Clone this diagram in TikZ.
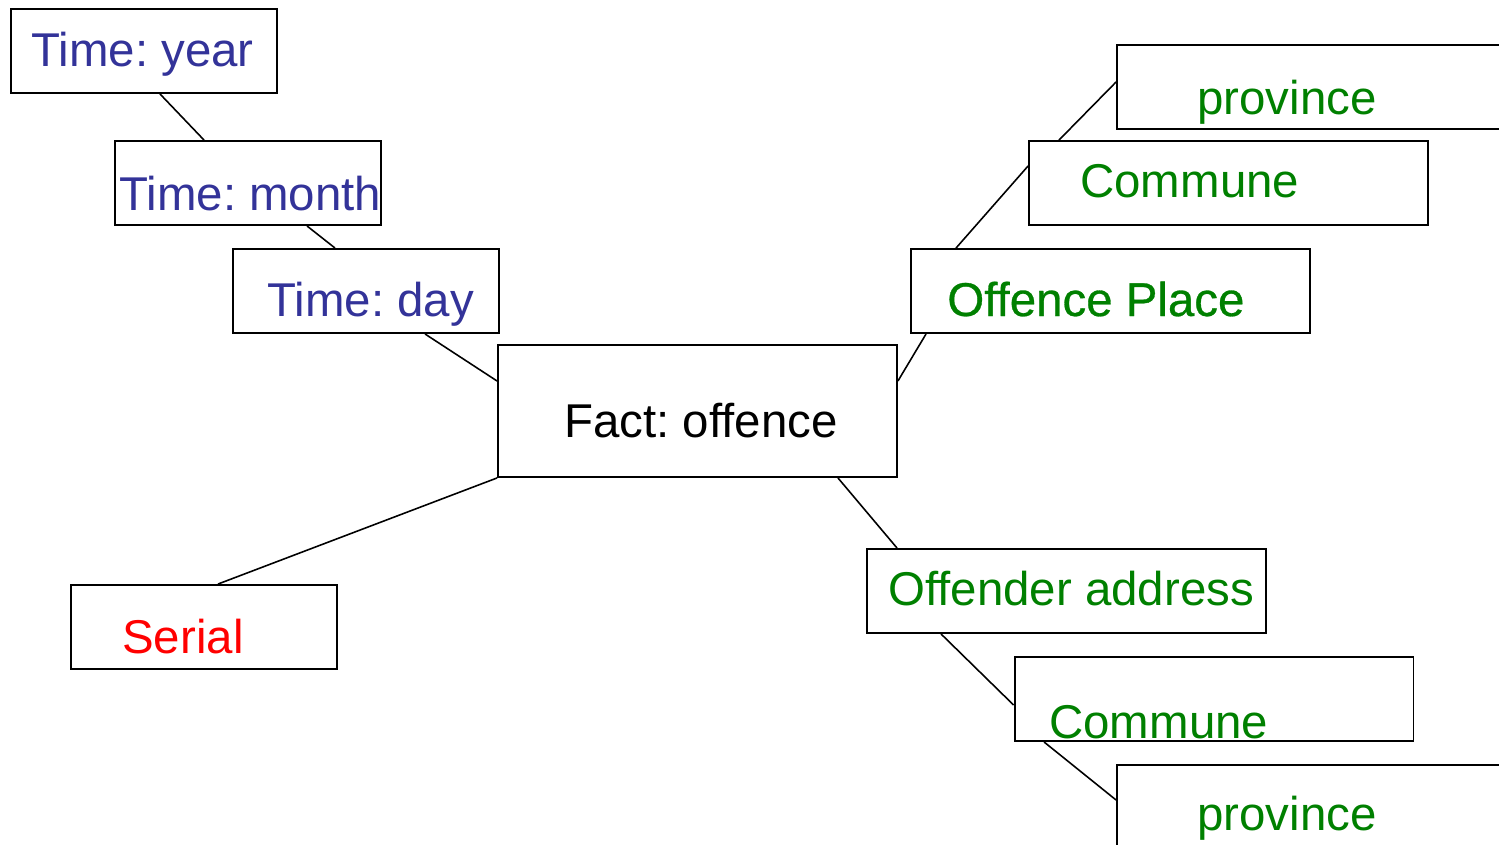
\documentclass[tikz,border=0pt]{standalone}
\usepackage{fontspec}
\setmainfont{Liberation Sans}
\usepackage{xcolor}
\definecolor{dmblue}{HTML}{333399}
\definecolor{dmgreen}{HTML}{008000}
\definecolor{dmred}{HTML}{FF0000}
\usepackage{tikz}
\usetikzlibrary{positioning}
\frenchspacing

\begin{document}
\begin{tikzpicture}[
  x=0.02cm, y=-0.02cm,
  box/.style={rectangle, draw=black, fill=white, line width=1.1pt,
              minimum width=7.98cm, minimum height=1.68cm, inner sep=0pt},
  shortbox/.style={box, minimum width=5.32cm},
  txt/.style={anchor=base west, inner sep=0pt, font=\fontsize{27}{32}\selectfont},
  conn/.style={draw=black, line width=0.9pt}
]
  \clip (0,0) rectangle (1499,845);

  \node[shortbox] (year) at (144,51) {};
  \node[shortbox] (month) at (248,183) {};
  \node[shortbox] (day) at (366,291) {};
  \node[box, minimum height=2.64cm] (fact) at (697.5,411) {};
  \node[shortbox] (serial) at (204,627) {};
  \node[box] (province1) at (1316.5,87) {};
  \node[box] (commune1) at (1228.5,183) {};
  \node[box] (place) at (1110.5,291) {};
  \node[box] (offender) at (1066.5,591) {};
  \node[box] (commune2) at (1214,699) {};
  \node[box] (province2) at (1316.5,807) {};

  \node[txt, dmblue] (yeartxt) at (31,66) {Time: year};
  \node[txt, dmblue] (monthtxt) at (119,210) {Time: month};
  \node[txt, dmblue] (daytxt) at (267,316) {Time: day};
  \node[txt] (facttxt) at (564,437) {Fact: offence};
  \node[txt, dmred] (serialtxt) at (122,653) {Serial};
  \node[txt, dmgreen] (province1txt) at (1197,114) {province};
  \node[txt, dmgreen] (commune1txt) at (1080,197) {Commune};
  \node[txt, dmgreen, font=\fontsize{27}{32}\selectfont\addfontfeatures{FakeBold=0.6}]
    (placetxt) at (947,316) {Offence Place};
  \node[txt, dmgreen] (offendertxt) at (888,605) {Offender address};
  \node[txt, dmgreen] (commune2txt) at (1049,738) {Commune};
  \node[txt, dmgreen] (province2txt) at (1197,830) {province};

  \draw[conn] ([xshift=0.32cm]year.south) -- ([xshift=-0.88cm]month.north);
  \draw[conn] ([xshift=1.18cm]month.south) -- ([xshift=-0.62cm]day.north);
  \draw[conn] ([xshift=1.18cm]day.south) -- ([yshift=0.6cm]fact.west);
  \draw[conn] (fact.south west) -- ([xshift=0.28cm]serial.north);
  \draw[conn] ([yshift=0.6cm]fact.east) -- ([xshift=-3.69cm]place.south);
  \draw[conn] ([xshift=-3.09cm]place.north) -- ([yshift=0.34cm]commune1.west);
  \draw[conn] ([xshift=-3.39cm]commune1.north) -- ([yshift=0.1cm]province1.west);
  \draw[conn] ([xshift=2.81cm]fact.south) -- ([xshift=-3.39cm]offender.north);
  \draw[conn] ([xshift=-2.51cm]offender.south) -- ([yshift=-0.12cm]commune2.west);
  \draw[conn] ([xshift=-3.4cm]commune2.south) -- ([yshift=0.14cm]province2.west);
\end{tikzpicture}
\end{document}
